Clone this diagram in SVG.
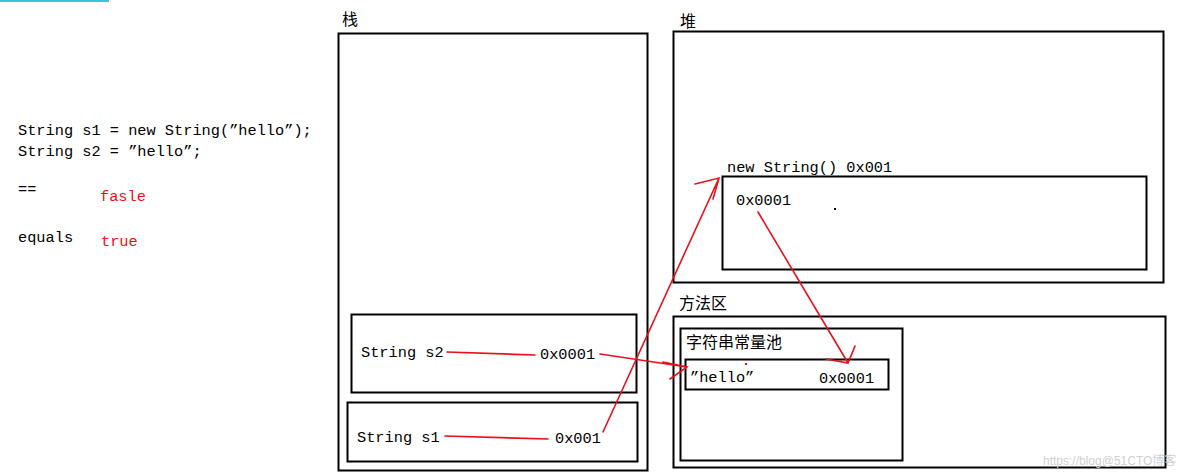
<svg xmlns="http://www.w3.org/2000/svg" width="1184" height="475" viewBox="0 0 1184 475">
<style>
.box{fill:none;stroke:#000;stroke-width:2}
.t{font-family:"Liberation Mono","Noto Sans CJK SC",monospace;font-size:15.3px;fill:#000}
.cn{font-family:"Noto Sans CJK SC",sans-serif;font-size:16px;fill:#000}
.red{fill:#e8101a}
.ln{fill:none;stroke:#e8101a;stroke-width:1.6;stroke-linecap:round}
</style>
<rect x="0" y="0" width="1184" height="475" fill="#fff"/>
<line x1="0" y1="1" x2="109" y2="1" stroke="#35c7d6" stroke-width="2"/>
<g id="code">
<text class="t" x="18" y="135">String s1 = new String(”hello”);</text>
<text class="t" x="18" y="156">String s2 = ”hello”;</text>
<text class="t" x="18" y="194" font-size="12">==</text>
<text class="t red" x="100" y="201">fasle</text>
<text class="t" x="18" y="242">equals</text>
<text class="t red" x="101" y="246">true</text>
</g>
<g id="stack">
<text class="cn" x="342" y="25">栈</text>
<rect class="box" x="338.5" y="33.5" width="309" height="437"/>
</g>
<g id="s2">
<rect class="box" x="351.5" y="314.5" width="285" height="78"/>
<text class="t" x="361" y="357">String s2</text>
<text class="t" x="540" y="359">0x0001</text>
</g>
<g id="s1">
<rect class="box" x="347.5" y="402.5" width="290" height="59"/>
<text class="t" x="357" y="442">String s1</text>
<text class="t" x="555" y="443">0x001</text>
</g>
<g id="heap">
<text class="cn" x="680" y="27">堆</text>
<rect class="box" x="673.5" y="31.5" width="490" height="251"/>
</g>
<g id="heapObj">
<text class="t" x="727" y="172">new String() 0x001</text>
<rect class="box" x="722.5" y="176.5" width="424" height="93"/>
<text class="t" x="736" y="205">0x0001</text>
<rect x="834" y="208" width="2" height="2" fill="#000"/>
</g>
<g id="method">
<text class="cn" x="679" y="309">方法区</text>
<rect class="box" x="673.5" y="316.5" width="492" height="151"/>
</g>
<g id="pool">
<rect class="box" x="680.5" y="328.5" width="222" height="132"/>
<text class="cn" x="686" y="348" font-size="17">字符串常量池</text>
</g>
<g id="hello">
<rect class="box" x="685.5" y="359.5" width="203" height="30"/>
<text class="t" x="690" y="382">”hello”</text>
<text class="t" x="819" y="383">0x0001</text>
<rect x="745" y="363" width="2" height="2" fill="#e8101a"/>
</g>
<g id="connectors">
<path class="ln" d="M447,352 L535,355"/>
<path class="ln" d="M600,354 L687,367 M663,362 L687,367 L670,379"/>
<path class="ln" d="M445,436 L548,439"/>
<path class="ln" d="M603,432 L719,178 M695,184 L719,178 L713,199"/>
<path class="ln" d="M758,212 L848,363 M826,359 L848,363 L855,346"/>
</g>
<text x="1043" y="465" font-family="Liberation Sans,'Noto Sans CJK SC',sans-serif" font-size="12" fill="#d0d0d0">https://blog@51CTO博客</text>
</svg>
